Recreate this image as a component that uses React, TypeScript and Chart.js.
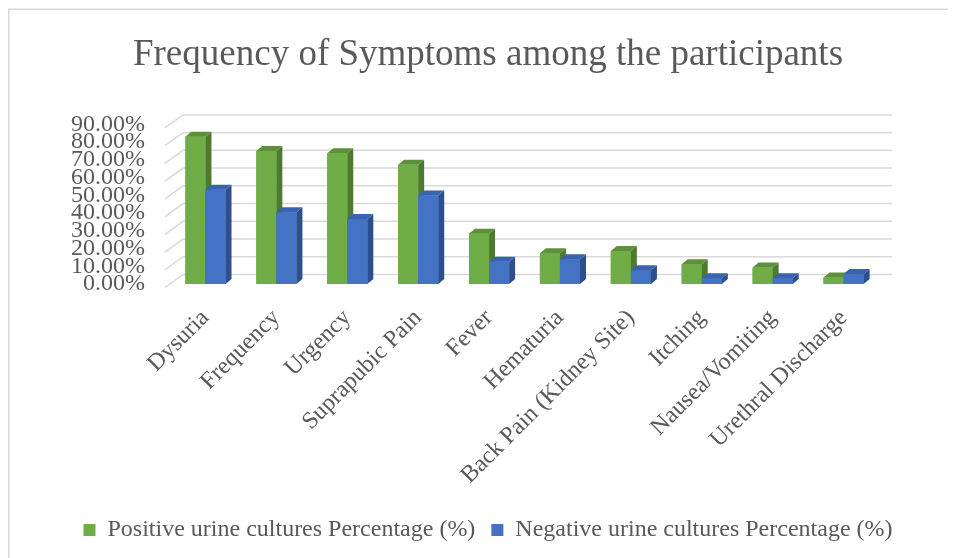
import { useEffect, useRef } from 'react';
import { Chart, registerables } from 'chart.js';

Chart.register(...registerables);

const categories = [
  'Dysuria',
  'Frequency',
  'Urgency',
  'Suprapubic Pain',
  'Fever',
  'Hematuria',
  'Back Pain (Kidney Site)',
  'Itching',
  'Nausea/Vomiting',
  'Urethral Discharge',
];
const positiveValues = [83.1, 75.0, 73.7, 67.2, 28.4, 17.3, 18.6, 11.1, 9.3, 3.7];
const negativeValues = [53.2, 40.4, 36.7, 49.9, 12.6, 13.9, 7.8, 3.3, 3.3, 5.6];
const seriesLabels = [
  'Positive urine cultures Percentage (%)',
  'Negative urine cultures Percentage (%)',
];
const yTickValues = [0, 10, 20, 30, 40, 50, 60, 70, 80, 90];

const FONT = 'Liberation Serif';
const TEXT = '#595959';
const GREEN = '#70AD47';
const BLUE = '#4472C4';
const faces: Record<string, { side: string; top: string }> = {
  [GREEN]: { side: '#4E7A30', top: '#5C903A' },
  [BLUE]: { side: '#2D4F8C', top: '#3A63AD' },
};
const DX = 6;
const DY = 5;

const borderPlugin = {
  id: 'frameBorder',
  beforeDraw(chart: any) {
    const { ctx, width, height } = chart;
    ctx.save();
    ctx.strokeStyle = '#d9d9d9';
    ctx.lineWidth = 1.5;
    ctx.beginPath();
    ctx.moveTo(0.75, height);
    ctx.lineTo(0.75, 1.25);
    ctx.lineTo(width, 1.25);
    ctx.stroke();
    ctx.restore();
  },
};

const bar3dPlugin = {
  id: 'bar3d',
  beforeDatasetsDraw(chart: any) {
    const { ctx, chartArea: a } = chart;
    const y = chart.scales.y;
    ctx.save();
    ctx.strokeStyle = '#d9d9d9';
    ctx.lineWidth = 1.5;
    y.ticks.forEach((t: any) => {
      const py = y.getPixelForValue(t.value);
      ctx.beginPath();
      ctx.moveTo(a.left - 5, py + 3.5);
      ctx.lineTo(a.left + 13, py - 9.5);
      ctx.lineTo(a.right + 13, py - 9.5);
      ctx.stroke();
    });
    ctx.restore();
  },
  afterDatasetsDraw(chart: any) {
    const { ctx } = chart;
    ctx.save();
    chart.data.datasets.forEach((ds: any, i: number) => {
      const meta = chart.getDatasetMeta(i);
      const front = ds.backgroundColor as string;
      const f = faces[front];
      meta.data.forEach((el: any) => {
        const { x, y, base, width } = el.getProps(['x', 'y', 'base', 'width'], true);
        const x0 = x - width / 2;
        const x1 = x + width / 2;
        ctx.fillStyle = front;
        ctx.fillRect(x0, y, width, base - y);
        ctx.fillStyle = f.side;
        ctx.beginPath();
        ctx.moveTo(x1, y);
        ctx.lineTo(x1 + DX, y - DY);
        ctx.lineTo(x1 + DX, base - DY);
        ctx.lineTo(x1, base);
        ctx.closePath();
        ctx.fill();
        ctx.fillStyle = f.top;
        ctx.beginPath();
        ctx.moveTo(x0, y);
        ctx.lineTo(x0 + DX, y - DY);
        ctx.lineTo(x1 + DX, y - DY);
        ctx.lineTo(x1, y);
        ctx.closePath();
        ctx.fill();
      });
    });
    ctx.restore();
  },
};

export default function App() {
  const ref = useRef<HTMLCanvasElement | null>(null);

  useEffect(() => {
    document.documentElement.style.overflow = 'hidden';
    document.body.style.overflow = 'hidden';
    if (!ref.current) return;
    const chart = new Chart(ref.current, {
      type: 'bar',
      data: {
        labels: categories,
        datasets: [
          { label: seriesLabels[0], data: positiveValues, backgroundColor: GREEN, borderWidth: 0 },
          { label: seriesLabels[1], data: negativeValues, backgroundColor: BLUE, borderWidth: 0 },
        ],
      },
      options: {
        responsive: false,
        animation: false,
        events: [],
        datasets: { bar: { categoryPercentage: 0.566, barPercentage: 1.0 } },
        layout: { padding: { left: 12, right: 0, top: 0, bottom: 6 } },
        plugins: {
          title: {
            display: true,
            text: 'Frequency of Symptoms among the participants',
            color: TEXT,
            font: { family: FONT, size: 37, weight: 'normal', lineHeight: 1.2 },
            padding: { top: 25, bottom: 47 },
          },
          legend: {
            position: 'bottom',
            labels: {
              color: TEXT,
              font: { family: FONT, size: 24 },
              boxWidth: 12,
              boxHeight: 12,
              padding: 16,
            },
          },
          tooltip: { enabled: false },
        },
        scales: {
          x: {
            grid: { display: false, drawTicks: false },
            border: { display: false },
            ticks: {
              color: TEXT,
              font: { family: FONT, size: 24 },
              maxRotation: 45,
              minRotation: 45,
              autoSkip: false,
              padding: 20,
            },
            afterFit(s: any) {
              s.height = 218;
            },
          },
          y: {
            min: 0,
            max: 90,
            afterBuildTicks(s: any) {
              s.ticks = yTickValues.map((v) => ({ value: v }));
            },
            grid: { display: false, drawTicks: false },
            border: { display: false },
            ticks: {
              color: TEXT,
              font: { family: FONT, size: 24, lineHeight: 1.0 },
              autoSkip: false,
              padding: 25,
              callback: (v: any) => Number(v).toFixed(2) + '%',
            },
            afterFit(s: any) {
              s.width = 150;
            },
          },
          y2: {
            position: 'right',
            display: true,
            grid: { display: false, drawTicks: false },
            border: { display: false },
            ticks: { display: false },
            afterFit(s: any) {
              s.width = 77;
            },
          },
        },
      },
      plugins: [borderPlugin, bar3dPlugin],
    } as any);
    return () => chart.destroy();
  }, []);

  return <canvas ref={ref} width={948} height={550} style={{ display: 'block' }} />;
}
